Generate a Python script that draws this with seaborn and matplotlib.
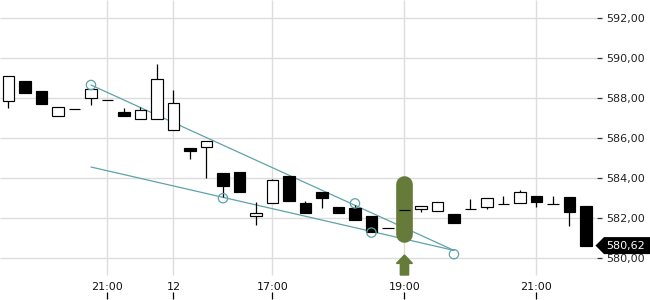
import numpy as np
import pandas as pd
import matplotlib
matplotlib.use("Agg")
import matplotlib.pyplot as plt
import matplotlib.transforms as mtransforms
from matplotlib.patches import Polygon
from matplotlib.ticker import FuncFormatter, FixedLocator
import seaborn as sns

# ---- data ----
opens = [587.84, 588.85, 588.35, 587.09, 587.44, 587.99, 587.90, 587.30, 586.94, 586.94,
         586.39, 585.50, 585.54, 584.25, 584.30, 582.09, 582.74, 584.10, 582.75, 583.30,
         582.55, 582.50, 582.10, 581.50, 582.42, 582.45, 582.34, 582.20, 582.47, 582.57,
         582.70, 582.77, 583.10, 582.70, 583.05, 582.60]
highs = [589.09, 588.85, 588.35, 587.54, 587.44, 588.47, 587.90, 587.49, 587.55, 589.70,
         588.40, 585.50, 585.84, 584.25, 584.30, 582.80, 583.93, 584.10, 582.85, 583.30,
         582.55, 582.65, 582.10, 581.50, 582.42, 582.60, 582.79, 582.20, 582.93, 582.98,
         583.12, 583.40, 583.10, 583.10, 583.05, 582.60]
lows = [587.52, 588.27, 587.72, 587.09, 587.44, 587.64, 587.90, 587.12, 586.94, 586.94,
        586.39, 584.95, 584.02, 583.07, 583.32, 581.67, 582.74, 582.87, 582.24, 582.52,
        582.27, 581.92, 581.32, 581.50, 582.42, 582.29, 582.34, 581.77, 582.47, 582.45,
        582.70, 582.77, 582.57, 582.70, 581.62, 580.62]
closes = [589.09, 588.27, 587.72, 587.54, 587.44, 588.47, 587.90, 587.12, 587.39, 588.94,
          587.74, 585.37, 585.84, 583.62, 583.32, 582.24, 583.90, 582.87, 582.24, 583.02,
          582.27, 581.92, 581.32, 581.50, 582.42, 582.60, 582.79, 581.77, 582.47, 582.98,
          582.70, 583.30, 582.82, 582.70, 582.32, 580.62]

x_tick_pos = [6, 10, 16, 24, 32]
x_tick_labels = ["21:00", "12", "17:00", "19:00", "21:00"]
y_ticks = [580, 582, 584, 586, 588, 590, 592]

upper_trend_x = [5, 27]
upper_trend_y = [588.65, 580.38]
lower_trend_x = [5, 27]
lower_trend_y = [584.55, 580.38]
pivot_x = [5, 13, 21, 22, 27]
pivot_y = [588.65, 582.99, 582.73, 581.27, 580.19]

signal_idx = 24
signal_low = 580.77
signal_high = 584.10
last_price = closes[-1]

# ---- style ----
sns.set_theme(style="white")
plt.rcParams['font.family'] = ['DejaVu Sans']

olive = "#667a3a"
teal = "#5fa3aa"
grid_c = "#dddddd"

fig = plt.figure(figsize=(6.5, 3.0), dpi=100)
ax = fig.add_axes([0, 1 / 300, 597 / 650, 299 / 300])

x0, x1 = -0.515, 35.67
y0, y1 = 577.95, 592.9
ax.set_xlim(x0, x1)
ax.set_ylim(y0, y1)

df = pd.DataFrame({"i": np.arange(len(opens)), "o": opens, "h": highs,
                   "l": lows, "c": closes})
df["lo"] = df[["o", "c"]].min(axis=1)
df["hgt"] = (df["c"] - df["o"]).abs()
df["face"] = np.where(df["c"] >= df["o"], "white", "black")

# grid
ax.hlines(y_ticks, x0, x1, color=grid_c, lw=1.0, zorder=0)
ax.vlines(x_tick_pos, 579.15, y1, color=grid_c, lw=1.0, zorder=0)

# trend lines and pivots
sns.lineplot(x=upper_trend_x, y=upper_trend_y, ax=ax, color=teal, lw=0.9, zorder=1.5)
sns.lineplot(x=lower_trend_x, y=lower_trend_y, ax=ax, color=teal, lw=0.9, zorder=1.5)
sns.scatterplot(x=pivot_x, y=pivot_y, ax=ax, s=45, facecolor="none",
                edgecolor=teal, linewidth=0.9, zorder=5)

# signal pill and arrow
r = 8.3 / 20.0
ax.plot([signal_idx, signal_idx], [signal_low + r, signal_high - r], color=olive,
        lw=12, solid_capstyle="round", zorder=2)
ax.arrow(signal_idx, 579.15, 0, 1.0, width=0.5, head_width=0.97, head_length=0.42,
         length_includes_head=True, color=olive, zorder=2)

# candles
ax.vlines(df["i"], df["l"], df["h"], color="black", lw=0.9, zorder=3)
ax.bar(df["i"], df["hgt"], bottom=df["lo"], width=0.72, color=df["face"],
       edgecolor="black", linewidth=0.85, zorder=4)

# axes styling
for s in ax.spines.values():
    s.set_visible(False)
ax.xaxis.set_major_locator(FixedLocator(x_tick_pos))
ax.set_xticklabels(x_tick_labels)
ax.tick_params(axis="x", direction="in", length=5, width=0.9, color="black",
               pad=-12, labelsize=8, labelcolor="#111111", bottom=True)
ax.yaxis.tick_right()
ax.yaxis.set_major_locator(FixedLocator(y_ticks))
ax.yaxis.set_major_formatter(FuncFormatter(lambda v, p: f"{v:.2f}".replace(".", ",")))
ax.tick_params(axis="y", direction="out", length=3.6, width=0.9, color="#333333",
               pad=3, labelsize=8, labelcolor="#222222", right=True, left=False)
ax.set_xlabel("")
ax.set_ylabel("")
ax.grid(False)

# last price tag
px, py = ax.transData.transform((x1, last_price))
ident = mtransforms.IdentityTransform()
tag = Polygon([(px - 1.5, py), (px + 7, py + 8.5), (650, py + 8.5), (650, py - 8.5),
               (px + 7, py - 8.5)], closed=True, facecolor="black", edgecolor="none",
              transform=ident, zorder=10)
fig.add_artist(tag)
fig.text(px + 9.5, py, f"{last_price:.2f}".replace(".", ","), transform=ident,
         color="white", fontsize=8, va="center", ha="left", zorder=11)

fig.savefig("out.png", dpi=100)
